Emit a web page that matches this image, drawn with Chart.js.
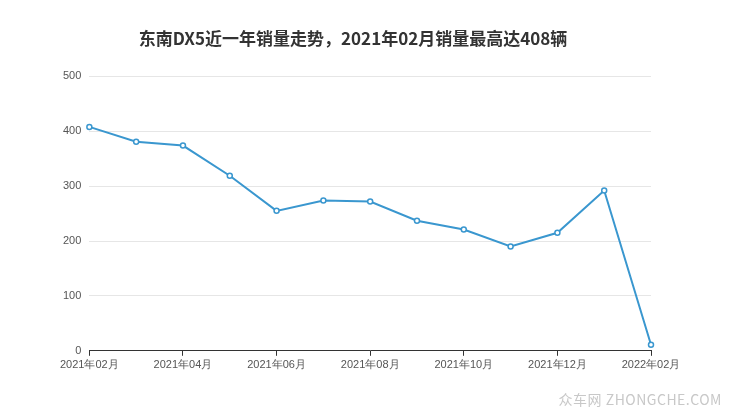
<!DOCTYPE html>
<html><head><meta charset="utf-8">
<script src="https://cdn.jsdelivr.net/npm/chart.js@4"></script>
<style>html,body{margin:0;padding:0;background:#fff;}#w{position:relative;width:740px;height:417px;}
#wm{position:absolute;right:18px;bottom:8px;font:14px "Noto Sans CJK SC",sans-serif;color:#c8c8c8;letter-spacing:0.5px}</style>
</head><body><div id="w"><canvas id="c" width="740" height="417"></canvas><div id="wm">众车网 ZHONGCHE.COM</div></div>
<script>
const categories=["2021年02月","2021年03月","2021年04月","2021年05月","2021年06月","2021年07月","2021年08月","2021年09月","2021年10月","2021年11月","2021年12月","2022年01月","2022年02月"];
const sales=[408,381,374,319,255,274,272,237,221,190,215,292,11];
const title="东南DX5近一年销量走势，2021年02月销量最高达408辆";
new Chart(document.getElementById('c'),{type:'line',
data:{labels:categories,datasets:[{data:sales,borderColor:'#3a97cf',borderWidth:2,pointRadius:2.5,pointBorderWidth:1.5,pointBackgroundColor:'#fff',pointBorderColor:'#3a97cf',tension:0}]},
options:{responsive:false,animation:false,layout:{padding:{left:55,right:89,top:16,bottom:42}},
plugins:{legend:{display:false},tooltip:{enabled:false},title:{display:true,text:title,color:'#333',font:{size:17,weight:'bold',family:'"Noto Sans CJK SC",sans-serif'},padding:{top:12,bottom:28}}},
scales:{x:{offset:false,grid:{display:true,drawOnChartArea:false,drawTicks:true,tickLength:5,color:c=>c.index%2===0?'#333':'rgba(0,0,0,0)'},border:{color:'#333'},ticks:{color:'#555',font:{size:11},maxRotation:0,autoSkip:false,callback:(v,i)=>i%2===0?categories[i]:''}},
y:{min:0,max:500,ticks:{stepSize:100,color:'#555',font:{size:11},padding:8},grid:{color:'#e6e6e6',drawTicks:false},border:{display:false}}}}});
</script></body></html>
